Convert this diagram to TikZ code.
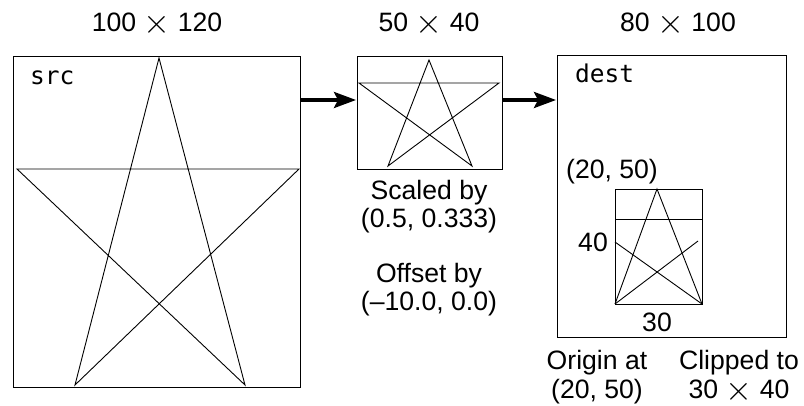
\documentclass[tikz,border=0pt]{standalone}
\usepackage{fix-cm}
\usepackage{graphicx}
\usepackage{fontspec}
\setmainfont{Liberation Sans}
\newfontfamily\monofnt{DejaVu Sans Mono}
\usetikzlibrary{arrows.meta}
\newcommand{\tms}{\smash{\raisebox{-1.6pt}{\scalebox{1.3}{$\times$}}}}
\begin{document}
\begin{tikzpicture}[x=1pt,y=-1pt,
  boxst/.style={draw=black,line width=1.2pt},
  starst/.style={draw=black,line width=0.9pt},
  lbl/.style={anchor=base,inner sep=0pt,font=\fontsize{26.6}{30}\selectfont},
  mono/.style={anchor=base west,inner sep=0pt,font=\fontsize{24.5}{28}\monofnt},
  flow/.style={line width=3.5pt,-{Stealth[length=22pt,width=16pt,inset=4pt]}}]
\useasboundingbox (0,0) rectangle (804,406);
% boxes
\node[boxst,inner sep=0pt,minimum width=287pt,minimum height=331pt,anchor=north west] (src) at (13,56) {};
\node[boxst,inner sep=0pt,minimum width=145pt,minimum height=113pt,anchor=north west] (mid) at (357,56) {};
\node[boxst,inner sep=0pt,minimum width=229pt,minimum height=282pt,anchor=north west] (dest) at (557,55) {};
\node[boxst,inner sep=0pt,minimum width=87pt,minimum height=115pt,anchor=north west] (clip) at (615,189) {};
% src star
\draw[starst] (159,58) -- (75,385) -- (299,169) -- (17,169) -- (245,385) -- cycle;
% mid star
\draw[starst] (429,60) -- (388,166) -- (499,83) -- (359,83) -- (472,166) -- cycle;
% clipped star
\draw[starst] (615,304) -- (657,189) -- (702,304);
\draw[starst] (615,219) -- (702,219);
\draw[starst] (615,242) -- (702,304);
\draw[starst] (698,241) -- (615,304);
% arrows
\coordinate (a1s) at (300,100);
\coordinate (a1e) at (356,100);
\coordinate (a2s) at (502,100);
\coordinate (a2e) at (556,100);
\draw[flow] (a1s) -- (a1e);
\draw[flow] (a2s) -- (a2e);
% labels
\node[mono] (srct) at (30,85) {src};
\node[mono] (destt) at (575,83) {dest};
\node[lbl] (t1) at (157,32) {100 \tms{} 120};
\node[lbl] (t2) at (429,32) {50 \tms{} 40};
\node[lbl] (t3) at (678,32) {80 \tms{} 100};
\node[lbl] (s1) at (429,200) {Scaled by};
\node[lbl] (s2) at (429,228) {(0.5, 0.333)};
\node[lbl] (o1) at (429,283) {Offset by};
\node[lbl] (o2) at (429,311) {(–10.0, 0.0)};
\node[lbl] (p1) at (612,179) {(20, 50)};
\node[lbl] (h1) at (593,252) {40};
\node[lbl] (w1) at (657,331) {30};
\node[lbl] (or1) at (597,370) {Origin at};
\node[lbl] (or2) at (597,399) {(20, 50)};
\node[lbl] (c1) at (739,370) {Clipped to};
\node[lbl] (c2) at (739,399) {30 \tms{} 40};
\end{tikzpicture}
\end{document}
